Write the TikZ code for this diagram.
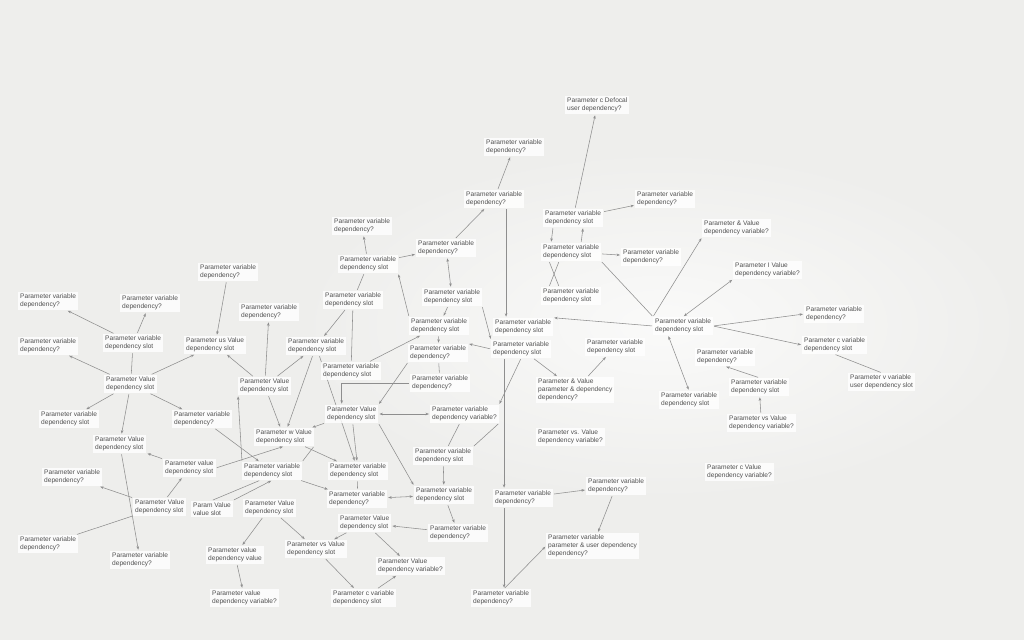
\documentclass[tikz,border=0pt]{standalone}
\usepackage{fontspec}
\setmainfont{Liberation Sans}
\usetikzlibrary{arrows.meta}
\definecolor{bgc}{HTML}{EEEEEC}
\definecolor{txc}{HTML}{505050}
\definecolor{lnc}{HTML}{8E8E8E}
\pgfdeclarelayer{back}
\pgfdeclarelayer{bg}
\pgfsetlayers{back,bg,main}
\tikzset{
  nd/.style={anchor=west,fill=white,fill opacity=0.8,text opacity=1,text=txc,
    inner sep=2pt,align=left,font=\fontsize{6.6}{8}\selectfont},
  ed/.style={draw=lnc,line width=0.55pt,-{Stealth[length=3.5pt,width=2.6pt]},shorten >=1pt,shorten <=1pt},
  el/.style={draw=lnc,line width=0.55pt,shorten >=1pt,shorten <=1pt},
  eb/.style={draw=lnc,line width=0.55pt,{Stealth[length=3.5pt,width=2.6pt]}-{Stealth[length=3.5pt,width=2.6pt]},shorten >=1pt,shorten <=1pt}
}
\begin{document}
\begin{tikzpicture}[x=1pt,y=-1pt]
\begin{pgfonlayer}{back}
\fill[bgc] (0,0) rectangle (1024,640);
\shade[inner color=white!70!bgc,outer color=bgc] (300,150) rectangle (1024,500);
\end{pgfonlayer}
\useasboundingbox (0,0) rectangle (1024,640);
% top
\node[nd] (N1) at (565,105) {Parameter c Defocal\\user dependency?};
\node[nd] (N2) at (484,147) {Parameter variable\\dependency?};
\node[nd] (N3) at (464,199) {Parameter variable\\dependency?};
\node[nd] (N4) at (543,218) {Parameter variable\\dependency slot};
\node[nd] (N5) at (635,199) {Parameter variable\\dependency?};
\node[nd] (N6) at (541,252) {Parameter variable\\dependency slot};
\node[nd] (N7) at (621,257) {Parameter variable\\dependency?};
\node[nd] (N8) at (541,296) {Parameter variable\\dependency slot};
\node[nd] (N9) at (702,228) {Parameter \& Value\\dependency variable?};
\node[nd] (N10) at (733,270) {Parameter I Value\\dependency variable?};
\node[nd] (N11) at (653,326) {Parameter variable\\dependency slot};
\node[nd] (N12) at (804,314) {Parameter variable\\dependency?};
\node[nd] (N13) at (802,345) {Parameter c variable\\dependency slot};
\node[nd] (N14) at (848,382) {Parameter v variable\\user dependency slot};
\node[nd] (N15) at (695,357) {Parameter variable\\dependency?};
\node[nd] (N16) at (729,387) {Parameter variable\\dependency slot};
\node[nd] (N17) at (659,400) {Parameter variable\\dependency slot};
\node[nd] (N18) at (727,423) {Parameter vs Value\\dependency variable?};
\node[nd] (N19) at (705,472) {Parameter c Value\\dependency variable?};
% middle
\node[nd] (N20) at (332,226) {Parameter variable\\dependency?};
\node[nd] (N21) at (416,248) {Parameter variable\\dependency?};
\node[nd] (N22) at (338,264) {Parameter variable\\dependency slot};
\node[nd] (N23) at (323,300) {Parameter variable\\dependency slot};
\node[nd] (N24) at (422,297) {Parameter variable\\dependency slot};
\node[nd] (N25) at (409,326) {Parameter variable\\dependency slot};
\node[nd] (N26) at (493,327) {Parameter variable\\dependency slot};
\node[nd] (N27) at (491,349) {Parameter variable\\dependency slot};
\node[nd] (N28) at (585,347) {Parameter variable\\dependency slot};
\node[nd] (N29) at (408,353) {Parameter variable\\dependency?};
\node[nd] (N30) at (321,371) {Parameter variable\\dependency slot};
\node[nd] (N31) at (410,383) {Parameter variable\\dependency?};
\node[nd] (N32) at (536,390) {Parameter \& Value\\parameter \& dependency\\dependency?};
\node[nd] (N33) at (536,437) {Parameter vs. Value\\dependency variable?};
\node[nd] (N34) at (325,414) {Parameter Value\\dependency slot};
\node[nd] (N35) at (430,414) {Parameter variable\\dependency variable?};
\node[nd] (N36) at (413,456) {Parameter variable\\dependency slot};
\node[nd] (N37) at (328,471) {Parameter variable\\dependency slot};
\node[nd] (N38) at (414,495) {Parameter variable\\dependency slot};
\node[nd] (N39) at (493,498) {Parameter variable\\dependency?};
\node[nd] (N40) at (586,486) {Parameter variable\\dependency?};
\node[nd] (N41) at (546,546) {Parameter variable\\parameter \& user dependency\\dependency?};
\node[nd] (N42) at (327,499) {Parameter variable\\dependency?};
\node[nd] (N43) at (428,533) {Parameter variable\\dependency?};
\node[nd] (N44) at (338,523) {Parameter Value\\dependency slot};
\node[nd] (N45) at (376,566) {Parameter Value\\dependency variable?};
\node[nd] (N46) at (285,549) {Parameter vs Value\\dependency slot};
\node[nd] (N47) at (331,598) {Parameter c variable\\dependency slot};
\node[nd] (N48) at (471,598) {Parameter variable\\dependency?};
% left
\node[nd] (N49) at (198,272) {Parameter variable\\dependency?};
\node[nd] (N50) at (18,301) {Parameter variable\\dependency?};
\node[nd] (N51) at (120,303) {Parameter variable\\dependency?};
\node[nd] (N52) at (18,346) {Parameter variable\\dependency?};
\node[nd] (N53) at (103,343) {Parameter variable\\dependency slot};
\node[nd] (N54) at (184,345) {Parameter us Value\\dependency slot};
\node[nd] (N55) at (239,312) {Parameter variable\\dependency?};
\node[nd] (N56) at (286,346) {Parameter variable\\dependency slot};
\node[nd] (N57) at (238,386) {Parameter Value\\dependency slot};
\node[nd] (N58) at (104,384) {Parameter Value\\dependency slot};
\node[nd] (N59) at (39,419) {Parameter variable\\dependency slot};
\node[nd] (N60) at (172,419) {Parameter variable\\dependency?};
\node[nd] (N61) at (93,444) {Parameter Value\\dependency slot};
\node[nd] (N62) at (254,437) {Parameter w Value\\dependency slot};
\node[nd] (N63) at (163,468) {Parameter value\\dependency slot};
\node[nd] (N64) at (242,471) {Parameter variable\\dependency slot};
\node[nd] (N65) at (42,477) {Parameter variable\\dependency?};
\node[nd] (N66) at (133,507) {Parameter Value\\dependency slot};
\node[nd] (N67) at (191,509) {Param Value\\value slot};
\node[nd] (N68) at (243,508) {Parameter Value\\dependency slot};
\node[nd] (N69) at (18,544) {Parameter variable\\dependency?};
\node[nd] (N70) at (110,560) {Parameter variable\\dependency?};
\node[nd] (N71) at (206,555) {Parameter value\\dependency value};
\node[nd] (N72) at (210,598) {Parameter value\\dependency variable?};
\begin{pgfonlayer}{bg}
% top
\draw[ed] (N4) -- (N1);
\draw[ed] (N4) -- (N5);
\draw[ed] (N3) -- (N2);
\draw[ed] (N21) -- (N3);
\draw[ed] ([xshift=12pt]N3.south) -- ([xshift=12pt]N3.south |- N26.north);
\draw[ed] ([xshift=-20pt]N4.south) -- ([xshift=-20pt]N6.north);
\draw[ed] ([xshift=10pt]N6.north) -- ([xshift=10pt]N4.south);
\draw[el] ([xshift=-22pt]N6.south) -- ([xshift=-12pt]N8.north);
\draw[el] ([xshift=-12pt]N6.south) -- ([xshift=-22pt]N8.north);
\draw[ed] (N6) -- (N7);
\draw[el] (N6.south east) -- (N11.north west);
\draw[ed] (N11.west) -- (N26.north east);
\draw[ed] (N11.north west) -- (N9.south west);
\draw[eb] (N11.north) -- (N10.south west);
\draw[ed] (N11.east) -- (N12.west);
\draw[ed] (N11.east) -- (N13.west);
\draw[el] (N13.south) -- (N14.north);
\draw[eb] ([xshift=-15pt]N11.south) -- (N17.north);
\draw[ed] (N16.north) -- (N15.south);
\draw[ed] (N18) -- (N16);
% middle
\draw[ed] (N22) -- (N20);
\draw[ed] (N22) -- (N21);
\draw[eb] (N21) -- (N24);
\draw[el] (N22) -- (N23);
\draw[ed] (N25.north west) -- (N22.south east);
\draw[ed] (N23) -- (N56);
\draw[el] (N23) -- (N30);
\draw[ed] (N30) -- (N25);
\draw[ed] (N24) -- (N25);
\draw[ed] (N24.south east) -- (N27.north west);
\draw[ed] (N25) -- (N29);
\draw[ed] (N27.west) -- (N29.north east);
\draw[el] (N29) -- (N31);
\draw[ed] (N29.south west) -- (N34.north east);
\draw[ed] (N31.west) -| ([xshift=-10pt]N34.north);
\draw[ed] (N27) -- (N32);
\draw[ed] (N32) -- (N28);
\draw[ed] (N27.south) -- (N35.north east);
\draw[ed] ([xshift=-17pt]N27.south) -- ([xshift=-17pt]N27.south |- N39.north);
\draw[ed] ([xshift=-17pt]N27.south |- N39.south) -- ([xshift=-17pt]N27.south |- N48.north);
\draw[ed] (N39) -- (N40);
\draw[ed] (N40) -- (N41);
\draw[ed] ([xshift=-17pt]N27.south |- N48.north) -- (N41.west);
\draw[eb] (N34) -- (N35);
\draw[ed] (N34) -- (N37);
\draw[ed] (N34.south east) -- (N38.north west);
\draw[el] (N35) -- (N36);
\draw[el] (N36.north east) -- (N35.south east);
\draw[ed] (N36) -- (N38);
\draw[el] (N37) -- (N42);
\draw[eb] (N42) -- (N38);
\draw[ed] (N38) -- (N43);
\draw[ed] (N43) -- (N44);
\draw[ed] (N44) -- (N45);
\draw[ed] (N47) -- (N45);
\draw[ed] (N46) -- (N47);
\draw[ed] (N44) -- (N46);
\draw[ed] (N34) -- (N62);
\draw[ed] (N62) -- (N37);
\draw[ed] (N64) -- (N42);
\draw[ed] (N56) -- (N37);
% left
\draw[ed] (N53) -- (N50);
\draw[ed] (N53) -- (N51);
\draw[ed] (N58) -- (N52);
\draw[ed] (N58) -- (N59);
\draw[ed] (N58) -- (N61);
\draw[ed] (N58) -- (N60);
\draw[ed] (N58) -- (N54);
\draw[el] (N53) -- (N58);
\draw[ed] (N49) -- (N54);
\draw[ed] (N57) -- (N55);
\draw[ed] (N57) -- (N54);
\draw[ed] (N57) -- (N56);
\draw[ed] (N56) -- (N62);
\draw[ed] (N57) -- (N62);
\draw[ed] (N64.north west) -- (N57.south west);
\draw[ed] (N60) -- (N64);
\draw[ed] (N63) -- (N61);
\draw[ed] (N63.east) -- (N62.south);
\draw[ed] (N66) -- (N65);
\draw[ed] (N66) -- (N63);
\draw[ed] (N61) -- (N70);
\draw[el] (N66) -- (N69);
\draw[el] (N67.north) -- ([xshift=-12pt]N64.south);
\draw[ed] (N67.north east) -- (N64.south);
\draw[el] (N64.north east) -- (N62.south east);
\draw[ed] (N68) -- (N71);
\draw[ed] (N71) -- (N72);
\draw[ed] (N68) -- (N46);
\end{pgfonlayer}
\end{tikzpicture}
\end{document}
